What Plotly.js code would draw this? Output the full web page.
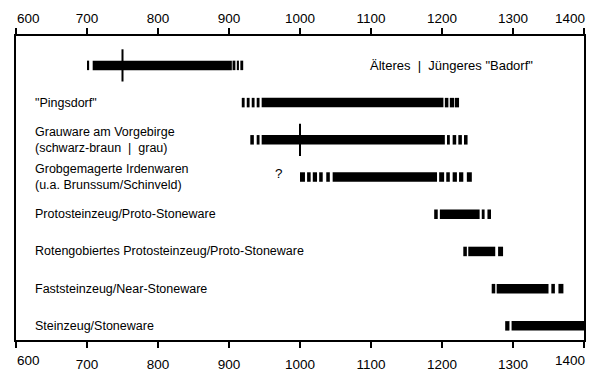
<!DOCTYPE html>
<html>
<head>
<meta charset="utf-8">
<script src="https://cdn.plot.ly/plotly-3.0.1.min.js"></script>
<style>
html,body{margin:0;padding:0;background:#fff;}
#chart{width:600px;height:386px;}
</style>
</head>
<body>
<div id="chart"></div>
<script>
// Ware groups (rows, top to bottom)
const categories = [
  'Badorf',
  'Pingsdorf',
  'Grauware',
  'Grobgemagerte',
  'Protosteinzeug',
  'Rotengobiertes',
  'Faststeinzeug',
  'Steinzeug'
];
const rowLabels = [
  '',
  '"Pingsdorf"',
  'Grauware am Vorgebirge<br>(schwarz-braun  |  grau)',
  'Grobgemagerte Irdenwaren<br>(u.a. Brunssum/Schinveld)',
  'Protosteinzeug/Proto-Stoneware',
  'Rotengobiertes Protosteinzeug/Proto-Stoneware',
  'Faststeinzeug/Near-Stoneware',
  'Steinzeug/Stoneware'
];
// Dated segments [start year, end year] for each row (dashed ends = uncertain)
const badorfSegments = [[700,703],[708,904],[905,909],[911,914],[916,920]];
const pingsdorfSegments = [[918,922],[925,929],[932,936],[939,943],[946,1202],[1204,1209],[1211,1217],[1218,1224]];
const grauwareSegments = [[930,935],[939,943],[946,1204],[1207,1211],[1215,1220],[1223,1228],[1231,1236]];
const grobSegments = [[1000,1007],[1010,1015],[1018,1024],[1027,1032],[1037,1042],[1046,1193],[1196,1203],[1206,1211],[1215,1221],[1224,1230],[1235,1242]];
const protoSegments = [[1189,1194],[1197,1253],[1256,1260],[1264,1269]];
const rotenSegments = [[1230,1235],[1237,1275],[1279,1286]];
const fastSegments = [[1270,1275],[1277,1350],[1354,1359],[1364,1371]];
const steinSegments = [[1289,1295],[1298,1400]];
const segmentsByRow = [badorfSegments, pingsdorfSegments, grauwareSegments, grobSegments,
                       protoSegments, rotenSegments, fastSegments, steinSegments];
// Divider marks (older | younger phases)
const dividerYears = [750, 1000];
const dividerRows = ['Badorf', 'Grauware'];
// Axis ticks
const tickYears = [600, 700, 800, 900, 1000, 1100, 1200, 1300, 1400];
const tickLabels = ['600', '700', '800', '900', '1000', '1100', '1200', '1300', '1400'];

const segY = [], segBase = [], segLen = [];
segmentsByRow.forEach((segs, i) => {
  segs.forEach(s => { segY.push(categories[i]); segBase.push(s[0]); segLen.push(s[1] - s[0]); });
});

const FONT = '"Liberation Sans", Arial, Helvetica, sans-serif';
const last = tickLabels.length - 1;
// inner labels drawn by the axis; the two end labels sit inside the frame, drawn as annotations
const tickText = tickLabels.map((t, i) => (i === 0 || i === last) ? '' : t);

const traces = [
  {
    type: 'bar', orientation: 'h',
    y: segY, base: segBase, x: segLen,
    width: 0.255,
    marker: {color: '#000', line: {width: 0}},
    hoverinfo: 'skip', showlegend: false,
    xaxis: 'x', yaxis: 'y'
  },
  {
    type: 'scatter', mode: 'markers',
    x: dividerYears, y: dividerRows,
    marker: {symbol: 'line-ns', size: 23, line: {color: '#000', width: 2}},
    hoverinfo: 'skip', showlegend: false,
    xaxis: 'x2', yaxis: 'y'
  }
];

const annotations = rowLabels.map((t, i) => ({
  text: t, x: 624, y: categories[i], xref: 'x', yref: 'y',
  xanchor: 'left', yanchor: 'middle', align: 'left', showarrow: false,
  font: {family: FONT, size: 12.5, color: '#000'}
})).filter(a => a.text !== '');

annotations.push({
  text: 'Älteres  |  Jüngeres "Badorf"', x: 1214, y: 'Badorf', xref: 'x', yref: 'y',
  xanchor: 'center', yanchor: 'middle', showarrow: false,
  font: {family: FONT, size: 13, color: '#000'}
});
annotations.push({
  text: '?', x: 970, y: 'Grobgemagerte', xref: 'x', yref: 'y',
  xanchor: 'center', yanchor: 'middle', showarrow: false, yshift: 4,
  font: {family: FONT, size: 13.5, color: '#000'}
});
// end tick labels, top and bottom
[1.058, -0.069].forEach(py => {
  annotations.push({
    text: tickLabels[0], x: tickYears[0], y: py, xref: 'x', yref: 'paper',
    xanchor: 'left', yanchor: 'middle', xshift: -1, showarrow: false,
    font: {family: FONT, size: 13.5, color: '#000'}
  });
  annotations.push({
    text: tickLabels[last], x: tickYears[last], y: py, xref: 'x', yref: 'paper',
    xanchor: 'right', yanchor: 'middle', xshift: 3, showarrow: false,
    font: {family: FONT, size: 13.5, color: '#000'}
  });
});

const axisCommon = {
  range: [600, 1400], tickvals: tickYears, ticktext: tickText,
  ticks: 'outside', ticklen: 6, tickwidth: 1.5, tickcolor: '#000',
  showline: true, linewidth: 2, linecolor: '#000',
  showgrid: false, zeroline: false, fixedrange: true,
  tickfont: {family: FONT, size: 13.5, color: '#000'}
};

const layout = {
  width: 600, height: 386,
  margin: {l: 16, r: 16, t: 36, b: 46, pad: 0},
  paper_bgcolor: '#fff', plot_bgcolor: '#fff',
  showlegend: false,
  barmode: 'overlay',
  xaxis: Object.assign({}, axisCommon, {side: 'bottom', ticklabelstandoff: 5}),
  xaxis2: Object.assign({}, axisCommon, {side: 'top', overlaying: 'x', matches: 'x', ticklabelstandoff: 0}),
  yaxis: {
    type: 'category', categoryorder: 'array', categoryarray: categories,
    range: [7.38, -0.79], showticklabels: false, ticks: '',
    showline: true, mirror: true, linewidth: 2, linecolor: '#000',
    showgrid: false, zeroline: false, fixedrange: true
  },
  annotations: annotations
};

Plotly.newPlot('chart', traces, layout, {displayModeBar: false, staticPlot: true});
</script>
</body>
</html>
